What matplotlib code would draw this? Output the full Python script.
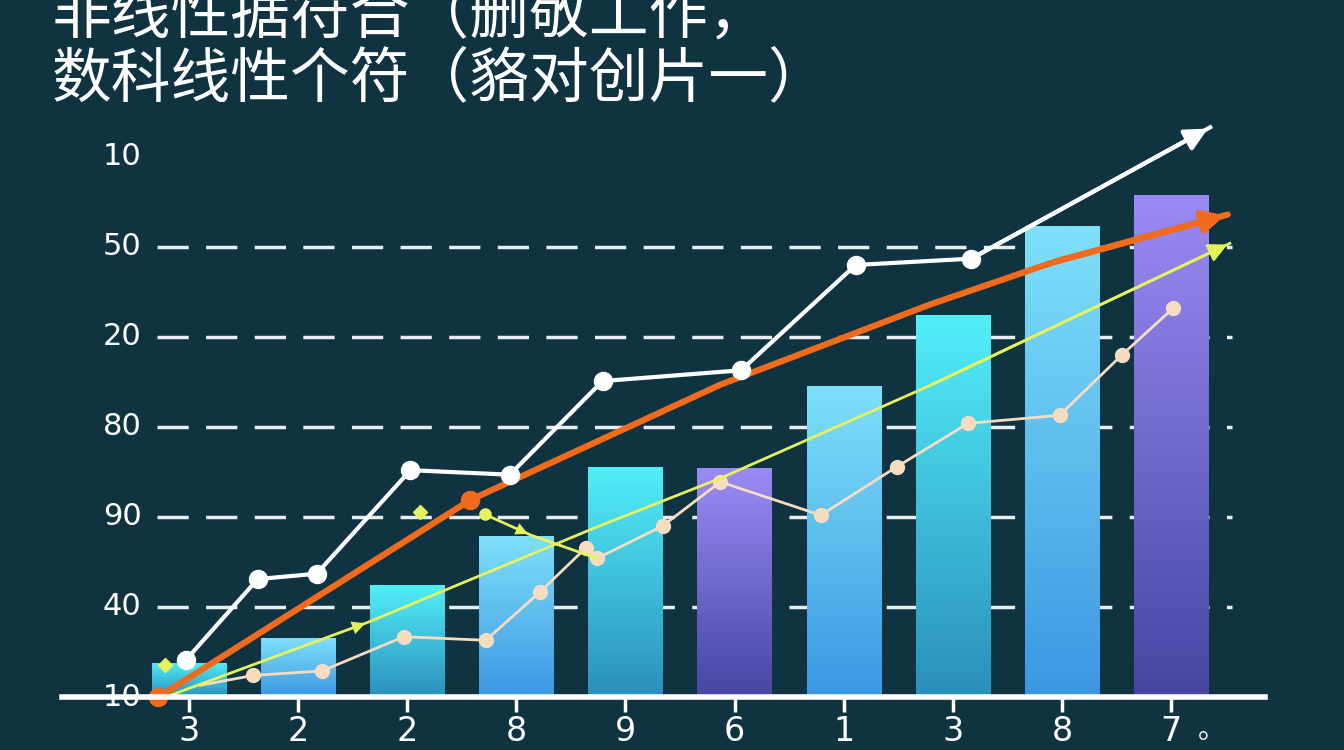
import numpy as np
import matplotlib
matplotlib.use('Agg')
import matplotlib.pyplot as plt
from matplotlib.colors import LinearSegmentedColormap

# Chart data
categories = ['3', '2', '2', '8', '9', '6', '1', '3', '8', '7']
bar_values = [0.38, 0.66, 1.24, 1.79, 2.56, 2.54, 3.46, 4.24, 5.23, 5.58]
bar_kind = ['cyan', 'blue', 'cyan', 'blue', 'cyan', 'purple', 'blue', 'cyan', 'blue', 'purple']

y_tick_values = [0, 1, 2, 3, 4, 5, 6]
y_tick_labels = ['10', '40', '90', '80', '20', '50', '10']
grid_values = [1, 2, 3, 4, 5]

white_x = [-0.03, 0.63, 1.17, 2.03, 2.94, 3.79, 5.06, 6.11, 7.17, 9.36]
white_y = [0.41, 1.31, 1.37, 2.52, 2.47, 3.51, 3.63, 4.80, 4.87, 6.33]

orange_x = [-0.28, 2.58, 4.87, 6.79, 7.92, 9.52]
orange_y = [0.00, 2.19, 3.47, 4.36, 4.83, 5.36]

yellow_x = [-0.28, 1.64, 3.72, 4.87, 6.79, 9.54]
yellow_y = [-0.03, 0.83, 1.88, 2.43, 3.46, 5.04]

stray_x = [2.71, 3.13, 3.74]
stray_y = [2.03, 1.80, 1.54]
stray_dot_x = [2.12, -0.22]
stray_dot_y = [2.06, 0.36]

cream_x = [0.10, 0.59, 1.22, 1.97, 2.72, 3.22, 3.64, 3.74, 4.34, 4.87, 5.79, 6.49, 7.14, 7.98, 8.55, 9.02]
cream_y = [0.13, 0.24, 0.29, 0.67, 0.63, 1.17, 1.66, 1.54, 1.90, 2.39, 2.02, 2.56, 3.04, 3.13, 3.80, 4.32]

title_1 = '非线性据符合（删敬工作，'
title_2 = '数科线性个符（貉对创片一）'

# Colours
BG = '#0f3340'
WHITE = '#ffffff'
ORANGE = '#f26a1b'
YELLOW = '#e6f25c'
CREAM = '#f7dcc0'
gradients = {
    'cyan': ('#2a8fbc', '#52eef8'),
    'blue': ('#3c97e2', '#7fe0fa'),
    'purple': ('#4646a2', '#9b8bf4'),
}

plt.rcParams['font.family'] = ['DejaVu Sans']

fig = plt.figure(figsize=(13.44, 7.5), dpi=100, facecolor=BG)
ax = fig.add_axes([62 / 1344, 53 / 750, 1203 / 1344, 697 / 750])
ax.set_facecolor(BG)

x = np.arange(len(categories))

# dashed grid lines
ax.hlines(grid_values, -0.29, 9.56, colors='#e8eef0', linestyles=(0, (9, 5)),
          linewidth=2.5, zorder=1)

# gradient bars
bars = ax.bar(x, bar_values, width=0.68, color='none', zorder=2)
grad = np.linspace(0, 1, 256).reshape(-1, 1)
for rect, kind in zip(bars, bar_kind):
    lo, hi = gradients[kind]
    cmap = LinearSegmentedColormap.from_list(kind, [lo, hi])
    x0, w, h = rect.get_x(), rect.get_width(), rect.get_height()
    im = ax.imshow(grad, extent=[x0, x0 + w, 0, h], origin='lower',
                   cmap=cmap, aspect='auto', zorder=2)
    im.set_clip_path(rect)
ax.set_xlim(-1.164, 9.862)
ax.set_ylim(0, 7.744)

# cream line
ax.plot(cream_x, cream_y, color=CREAM, linewidth=2, zorder=4)
ax.plot(cream_x[1:], cream_y[1:], 'o', color=CREAM, markersize=10, zorder=4)

# yellow line + stray bits
ax.plot(yellow_x, yellow_y, color=YELLOW, linewidth=2, zorder=5, clip_on=False)
ax.annotate('', xy=(yellow_x[-1], yellow_y[-1]), xytext=(yellow_x[-2], yellow_y[-2]),
            arrowprops=dict(arrowstyle='-|>', color=YELLOW, lw=2, mutation_scale=28), zorder=5)
ax.annotate('', xy=(yellow_x[1], yellow_y[1]), xytext=(yellow_x[0], yellow_y[0]),
            arrowprops=dict(arrowstyle='-|>', color=YELLOW, lw=0, mutation_scale=24), zorder=5)
ax.plot(stray_x, stray_y, color=YELLOW, linewidth=2, zorder=5)
ax.plot(stray_x[0], stray_y[0], 'o', color=YELLOW, markersize=8, zorder=5)
ax.annotate('', xy=(stray_x[1], stray_y[1]), xytext=(stray_x[0], stray_y[0]),
            arrowprops=dict(arrowstyle='-|>', color=YELLOW, lw=0, mutation_scale=22), zorder=5)
ax.plot(stray_dot_x, stray_dot_y, 'D', color=YELLOW, markersize=7, zorder=5, clip_on=False)

# orange line
ax.plot(orange_x, orange_y, color=ORANGE, linewidth=4.5, zorder=6,
        solid_capstyle='round', clip_on=False)
ax.plot(orange_x[:2], orange_y[:2], 'o', color=ORANGE, markersize=13, zorder=6, clip_on=False)
ax.annotate('', xy=(orange_x[-1], orange_y[-1]), xytext=(orange_x[-2], orange_y[-2]),
            arrowprops=dict(arrowstyle='-|>', color=ORANGE, lw=4.5, mutation_scale=32), zorder=6)

# white line
ax.plot(white_x, white_y, color=WHITE, linewidth=3, zorder=7)
ax.plot(white_x[:-1], white_y[:-1], 'o', color=WHITE, markersize=13, zorder=7)
ax.annotate('', xy=(white_x[-1], white_y[-1]), xytext=(white_x[-2], white_y[-2]),
            arrowprops=dict(arrowstyle='-|>', color=WHITE, lw=3, mutation_scale=34), zorder=7)

# y labels drawn inside the axes
ytrans = ax.get_yaxis_transform()
for v, lab in zip(y_tick_values, y_tick_labels):
    ax.text(0.034, v, lab, transform=ytrans, color=WHITE, fontsize=22,
            ha='left', va='center', zorder=3)
ax.set_yticks([])

# x axis
for side in ['top', 'right', 'left']:
    ax.spines[side].set_visible(False)
ax.spines['bottom'].set_color(WHITE)
ax.spines['bottom'].set_linewidth(4)
ax.spines['bottom'].set_zorder(8)
ax.set_xticks(x)
ax.set_xticklabels(categories, fontsize=24, color=WHITE)
ax.tick_params(axis='x', colors=WHITE, length=11, width=2.5, pad=2)
fig.text(1212 / 1344, 1 - 730 / 750, '。', color=WHITE, fontsize=20,
         family=['Noto Sans CJK SC'], ha='center', va='center')

# title (first line sits partly above the top edge, as in the reference)
fig.text(52 / 1344, 1 - 16 / 750, title_1, color=WHITE, fontsize=43,
         family=['Noto Sans CJK SC', 'DejaVu Sans'], ha='left', va='center')
fig.text(52 / 1344, 1 - 80 / 750, title_2, color=WHITE, fontsize=43,
         family=['Noto Sans CJK SC', 'DejaVu Sans'], ha='left', va='center')

fig.savefig('out.png', dpi=100, facecolor=BG)
